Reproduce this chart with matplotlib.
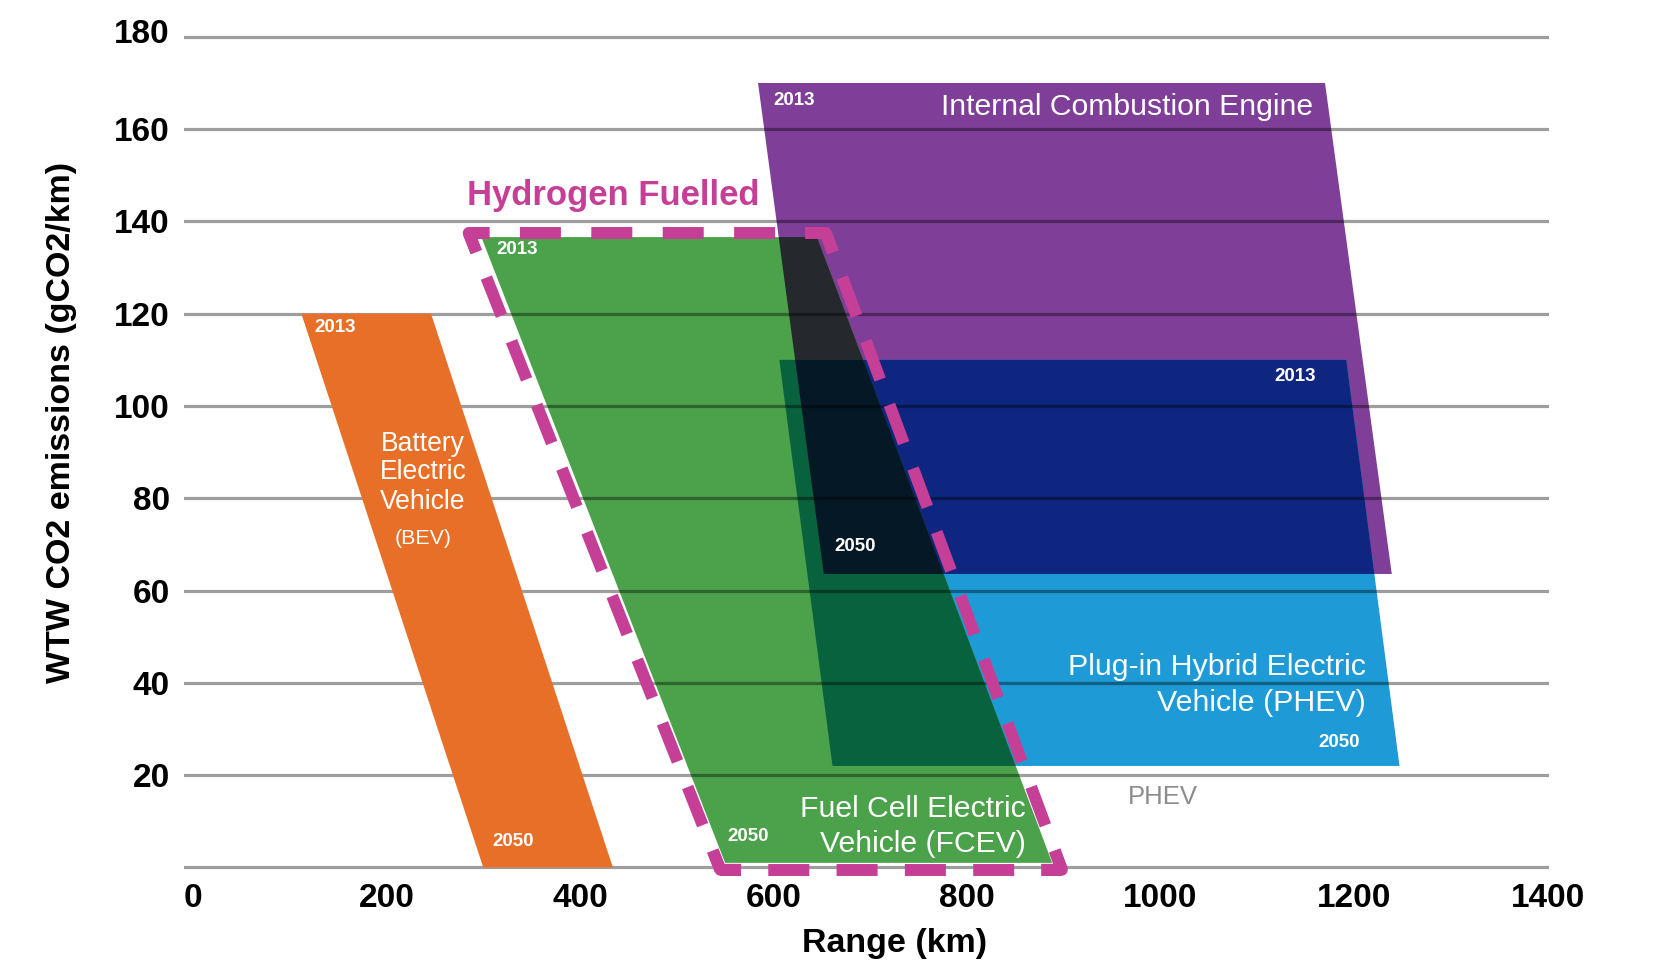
import itertools
import numpy as np
import matplotlib.pyplot as plt
from matplotlib.colors import to_rgb
from matplotlib.transforms import ScaledTranslation

plt.rcParams['font.family'] = ['Liberation Sans', 'DejaVu Sans']

# corners of each band: range (km) and WTW CO2 (g/km)
bev_range = [112, 246, 434, 300]
bev_co2 = [120, 120, 0, 0]

ice_range = [584, 1170, 1239, 652]
ice_co2 = [170, 170, 63.6, 63.6]

phev_range = [606, 1192, 1247, 661]
phev_co2 = [110, 110, 22, 22]

fcev_range = [298, 645, 888, 550]
fcev_co2 = [136.6, 136.6, 1, 1]

h2_range = [285, 654, 898, 545]
h2_co2 = [137.5, 137.5, -0.5, -0.5]

x_ticks = [0, 200, 400, 600, 800, 1000, 1200, 1400]
y_ticks = [0, 20, 40, 60, 80, 100, 120, 140, 160, 180]
y_labels = ['', '20', '40', '60', '80', '100', '120', '140', '160', '180']

ORANGE = '#E86F27'
PURPLE = '#7F3F98'
LBLUE = '#1E9AD6'
GREEN = '#4BA24A'
MAGENTA = '#C53F97'


def clip(subject, clipper):
    # Sutherland-Hodgman, clipper is convex
    area = sum(clipper[i][0] * clipper[i - 1][1] - clipper[i - 1][0] * clipper[i][1]
               for i in range(len(clipper)))
    s = -1 if area > 0 else 1

    def inside(p, a, b):
        return s * ((b[0] - a[0]) * (p[1] - a[1]) - (b[1] - a[1]) * (p[0] - a[0])) >= 0

    def cross(p, q, a, b):
        d = (p[0] - q[0]) * (a[1] - b[1]) - (p[1] - q[1]) * (a[0] - b[0])
        t = ((p[0] - a[0]) * (a[1] - b[1]) - (p[1] - a[1]) * (a[0] - b[0])) / d
        return (p[0] + t * (q[0] - p[0]), p[1] + t * (q[1] - p[1]))

    out = list(subject)
    for i in range(len(clipper)):
        a, b = clipper[i - 1], clipper[i]
        inp = out
        out = []
        if not inp:
            break
        for j in range(len(inp)):
            cur, prev = inp[j], inp[j - 1]
            if inside(cur, a, b):
                if not inside(prev, a, b):
                    out.append(cross(prev, cur, a, b))
                out.append(cur)
            elif inside(prev, a, b):
                out.append(cross(prev, cur, a, b))
    return out


fig = plt.figure(figsize=(16.54, 9.65), dpi=100)
ax = fig.add_axes([0.11113, 0.0915, 0.82509, 0.87513])
ax.set_xlim(-9.5, 1401)
ax.set_ylim(-2, 181)

# bands that overlap are blended like "multiply"
shapes = [list(zip(ice_range, ice_co2)), list(zip(phev_range, phev_co2)),
          list(zip(fcev_range, fcev_co2))]
colors = [to_rgb(PURPLE), to_rgb(LBLUE), to_rgb(GREEN)]
for k in range(1, len(shapes) + 1):
    for combo in itertools.combinations(range(len(shapes)), k):
        poly = shapes[combo[0]]
        col = [1.0, 1.0, 1.0]
        for j in combo:
            col = [c * d for c, d in zip(col, colors[j])]
        for j in combo[1:]:
            poly = clip(poly, shapes[j])
        if len(poly) < 3:
            continue
        xs, ys = zip(*poly)
        ax.fill(xs, ys, color=col, lw=0, zorder=1 + 0.1 * k)

ax.fill(bev_range, bev_co2, color=ORANGE, lw=0, zorder=3)

# dashed hydrogen outline: every side fitted so that a dash sits on each corner
lw = 8.6
lw_px = lw * fig.dpi / 72
dash_px, gap_px = 41, 28
verts = ax.transData.transform(np.column_stack([h2_range, h2_co2]))
inv = ax.transData.inverted()
n = len(verts)
for i in range(n):
    p0, p1 = verts[i], verts[(i + 1) % n]
    L = np.hypot(*(p1 - p0))
    m = max(1, round(L / (dash_px + gap_px)))
    period = L / m
    on = dash_px / lw_px
    off = (period - dash_px) / lw_px
    seg = inv.transform([p0, p1])
    ax.plot(seg[:, 0], seg[:, 1], color=MAGENTA, lw=lw, ls=(on / 2, (on, off)),
            dash_capstyle='butt', clip_on=False, zorder=4)
for i in range(n):
    pv, pc, pn = verts[i - 1], verts[i], verts[(i + 1) % n]
    ua = (pv - pc) / np.hypot(*(pv - pc))
    ub = (pn - pc) / np.hypot(*(pn - pc))
    corner = inv.transform([pc + ua * dash_px / 2, pc, pc + ub * dash_px / 2])
    ax.plot(corner[:, 0], corner[:, 1], color=MAGENTA, lw=lw,
            solid_joinstyle='round', solid_capstyle='butt', clip_on=False, zorder=4)

ax.set_xticks(x_ticks)
ax.set_yticks(y_ticks)
ax.set_yticklabels(y_labels)
ax.set_axisbelow(False)
ax.grid(axis='y', color='black', alpha=0.38, lw=2.3)
ax.tick_params(length=0, labelsize=24)
ax.tick_params(axis='x', pad=4.5)
ax.tick_params(axis='y', pad=10)
for lab in ax.get_xticklabels() + ax.get_yticklabels():
    lab.set_fontweight('bold')
# the top label sits a little above its line
top_lab = ax.get_yticklabels()[-1]
top_lab.set_transform(top_lab.get_transform()
                      + ScaledTranslation(0, 4.5 / 72, fig.dpi_scale_trans))
for sp in ax.spines.values():
    sp.set_visible(False)

fig.text(0.5411, 0.0138, 'Range (km)', ha='center', va='baseline',
         fontsize=24.5, fontweight='bold')
fig.text(0.0369, 0.5627, 'WTW CO2 emissions (gCO2/km)', ha='center', va='center',
         rotation=90, fontsize=24.5, fontweight='bold')

# labels
ax.text(283, 143.6, 'Hydrogen Fuelled', color=MAGENTA, fontsize=24.9,
        fontweight='bold', va='baseline', zorder=5)
ax.text(1158, 163.0, 'Internal Combustion Engine', color='white', fontsize=21.7,
        ha='right', va='baseline', zorder=5)
for line, yb in [('Battery', 90.3), ('Electric', 84.1), ('Vehicle', 77.7)]:
    ax.text(237.7, yb, line, color='white', fontsize=19.1, ha='center',
            va='baseline', zorder=5)
ax.text(237.7, 70.1, '(BEV)', color='white', fontsize=15.4, ha='center',
        va='baseline', zorder=5)
ax.text(1212.4, 41.8, 'Plug-in Hybrid Electric', color='white', fontsize=21.9,
        ha='right', va='baseline', zorder=5)
ax.text(1212.4, 33.9, 'Vehicle (PHEV)', color='white', fontsize=21.9,
        ha='right', va='baseline', zorder=5)
ax.text(861, 11.0, 'Fuel Cell Electric', color='white', fontsize=21.7,
        ha='right', va='baseline', zorder=5)
ax.text(861, 3.4, 'Vehicle (FCEV)', color='white', fontsize=21.7,
        ha='right', va='baseline', zorder=5)
ax.text(1002, 13.7, 'PHEV', color='#8C8C8E', fontsize=18.5, ha='center',
        va='baseline', zorder=5)

years = [
    (599.5, 166.3, '2013', 'left'),
    (663, 69.5, '2050', 'left'),
    (125, 117.0, '2013', 'left'),
    (309.8, 5.6, '2050', 'left'),
    (313.2, 134.0, '2013', 'left'),
    (552, 6.7, '2050', 'left'),
    (1160.7, 106.4, '2013', 'right'),
    (1206.2, 27.1, '2050', 'right'),
]
for x, y, t, ha in years:
    ax.text(x, y, t, color='white', fontsize=13.5, fontweight='bold', ha=ha,
            va='center', zorder=5)

fig.savefig('out.png', dpi=100)
